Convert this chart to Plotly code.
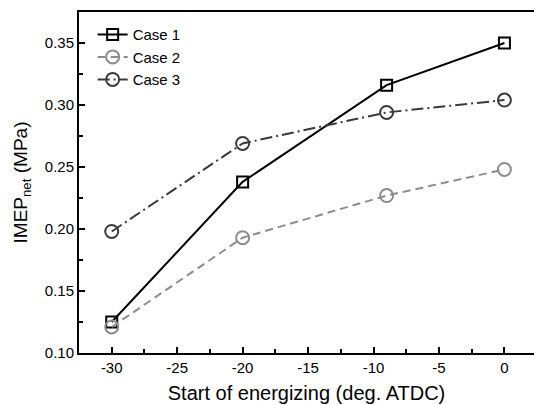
import plotly.graph_objects as go

x_soe = [-30, -20, -9, 0]
case1 = [0.125, 0.238, 0.316, 0.350]
case2 = [0.121, 0.193, 0.227, 0.248]
case3 = [0.198, 0.269, 0.294, 0.304]

x_ticks = [-30, -25, -20, -15, -10, -5, 0]
x_tick_text = ["-30", "-25", "-20", "-15", "-10", "-5", "0"]
y_ticks = [0.10, 0.15, 0.20, 0.25, 0.30, 0.35]

FONT = "Liberation Sans, Arial, sans-serif"

fig = go.Figure()
fig.add_trace(go.Scatter(
    x=x_soe, y=case1, name="Case 1", mode="lines+markers",
    line=dict(color="#000000", width=2, dash="solid"),
    marker=dict(symbol="square-open", size=11, color="#000000", line=dict(width=2)),
))
fig.add_trace(go.Scatter(
    x=x_soe, y=case2, name="Case 2", mode="lines+markers",
    line=dict(color="#8c8c8c", width=2, dash="8px,5px"),
    marker=dict(symbol="circle-open", size=13, color="#8c8c8c", line=dict(width=2)),
))
fig.add_trace(go.Scatter(
    x=x_soe, y=case3, name="Case 3", mode="lines+markers",
    line=dict(color="#3a3a3a", width=2, dash="12px,4px,2px,4px"),
    marker=dict(symbol="circle-open", size=13, color="#3a3a3a", line=dict(width=2)),
))

fig.update_layout(
    width=534, height=405,
    margin=dict(l=79, r=0, t=12, b=52, autoexpand=False),
    paper_bgcolor="white", plot_bgcolor="white",
    font=dict(family=FONT, color="#000000", size=15),
    showlegend=True,
    legend=dict(
        x=0.03, y=0.982, xanchor="left", yanchor="top",
        bgcolor="rgba(0,0,0,0)", borderwidth=0,
        font=dict(size=15, family=FONT),
        tracegroupgap=0, itemwidth=30,
    ),
    xaxis=dict(
        range=[-32.5, 2.26], tickvals=x_ticks, ticktext=x_tick_text,
        showline=True, linecolor="#000000", linewidth=2, mirror=True,
        ticks="inside", ticklen=6, tickwidth=2, tickcolor="#000000",
        minor=dict(ticks="inside", ticklen=4, tickwidth=2, tickcolor="#000000", dtick=2.5),
        showgrid=False, zeroline=False, automargin=False,
        tickfont=dict(size=15),
        title=dict(text="Start of energizing (deg. ATDC)", font=dict(size=20), standoff=11),
    ),
    yaxis=dict(
        range=[0.1, 0.375], tickvals=y_ticks, tickformat=".2f",
        showline=True, linecolor="#000000", linewidth=2, mirror=False,
        ticks="inside", ticklen=6, tickwidth=2, tickcolor="#000000",
        minor=dict(ticks="inside", ticklen=4, tickwidth=2, tickcolor="#000000", dtick=0.025),
        showgrid=False, zeroline=False, automargin=False,
        tickfont=dict(size=15),
        title=dict(text="IMEP<sub>net</sub> (MPa)", font=dict(size=19), standoff=12),
    ),
)

fig.write_html("out.html", config={"displayModeBar": False},
               post_script="document.body.style.margin='0';")
